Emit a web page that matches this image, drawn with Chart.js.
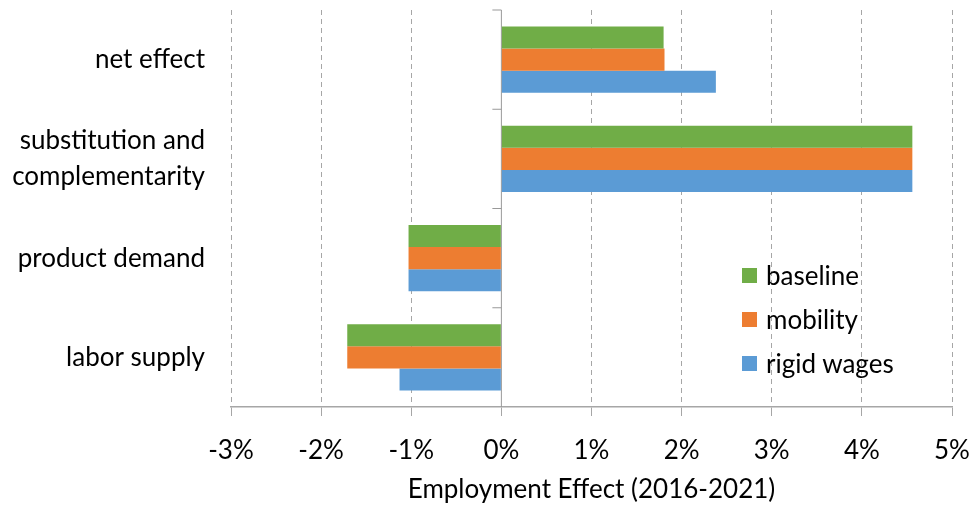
<!DOCTYPE html>
<html>
<head>
<meta charset="utf-8">
<script src="https://cdn.jsdelivr.net/npm/chart.js@4"></script>
<style>
    html, body { margin: 0; padding: 0; background: #fff; }
    #wrap { position: relative; width: 976px; height: 508px; }
    #legend { position: absolute; left: 742px; top: 253px; font-family: Lato, sans-serif; font-size: 26px; color: #000; }
    .item { display: flex; align-items: center; height: 44px; }
    .box { width: 15px; height: 15px; margin-right: 9px; }
</style>
</head>
<body>
<div id="wrap">
    <canvas id="chart" width="976" height="508"></canvas>
    <div id="legend"></div>
</div>
<script>
// data
const categories = ["net effect", ["substitution and", "complementarity"], "product demand", "labor supply"];
const baseline = [1.80, 4.56, -1.03, -1.71];
const mobility = [1.81, 4.56, -1.03, -1.71];
const rigidWages = [2.38, 4.56, -1.03, -1.13];
const seriesNames = ["baseline", "mobility", "rigid wages"];
const seriesColors = ["#70AD47", "#ED7D31", "#5B9BD5"];
const xMin = -3;
const xMax = 5;

const FONT = "Lato, sans-serif";
const axisGrey = "#A6A6A6";

// zero line + small category ticks on it
const zeroAxis = {
    id: "zeroAxis",
    beforeDatasetsDraw(chart) {
        const { ctx, scales, chartArea } = chart;
        const x0 = scales.x.getPixelForValue(0);
        ctx.save();
        ctx.strokeStyle = "#999";
        ctx.lineWidth = 1;
        ctx.beginPath();
        ctx.moveTo(x0, chartArea.top);
        ctx.lineTo(x0, chartArea.bottom);
        const n = categories.length;
        const step = (chartArea.bottom - chartArea.top) / n;
        for (let i = 0; i < n; i++) {
            const y = chartArea.top + i * step;
            ctx.moveTo(x0 - 9, y);
            ctx.lineTo(x0, y);
        }
        ctx.stroke();
        ctx.restore();
    },
};

const datasets = [baseline, mobility, rigidWages].map((data, i) => ({
    label: seriesNames[i],
    data,
    backgroundColor: seriesColors[i],
    borderWidth: 0,
    categoryPercentage: 0.665,
    barPercentage: 1,
}));

new Chart(document.getElementById("chart"), {
    type: "bar",
    data: { labels: categories, datasets },
    plugins: [zeroAxis],
    options: {
        indexAxis: "y",
        responsive: false,
        animation: false,
        layout: { padding: { top: 10, right: 24, left: 0, bottom: 0 } },
        plugins: {
            legend: { display: false },
            tooltip: { enabled: false },
        },
        scales: {
            x: {
                min: xMin,
                max: xMax,
                ticks: {
                    stepSize: 1,
                    color: "#000",
                    padding: 19,
                    font: { family: FONT, size: 26 },
                    callback: (v) => v + "%",
                },
                grid: {
                    color: (ctx) => (ctx.tick && ctx.tick.value === 0 ? "rgba(0,0,0,0)" : axisGrey),
                    tickColor: axisGrey,
                    tickLength: 9,
                    lineWidth: 1,
                },
                border: { display: true, color: axisGrey, width: 1.5, dash: [5, 4] },
                title: {
                    display: true,
                    text: "Employment Effect (2016-2021)",
                    color: "#000",
                    font: { family: FONT, size: 26 },
                    padding: { top: 10, bottom: 3 },
                },
                afterFit: (scale) => {
                    scale.height = 101;
                    scale.paddingLeft = 0;
                    scale.paddingRight = 0;
                },
            },
            y: {
                ticks: {
                    color: "#000",
                    padding: 18,
                    font: { family: FONT, size: 26, lineHeight: 1.4 },
                },
                grid: { display: false },
                border: { display: false },
                afterFit: (scale) => {
                    scale.width = 231;
                    scale.paddingTop = 0;
                    scale.paddingBottom = 0;
                },
            },
        },
    },
});

document.getElementById("legend").innerHTML = seriesNames
    .map((n, i) => `<div class="item"><div class="box" style="background:${seriesColors[i]}"></div>${n}</div>`)
    .join("");
</script>
</body>
</html>
